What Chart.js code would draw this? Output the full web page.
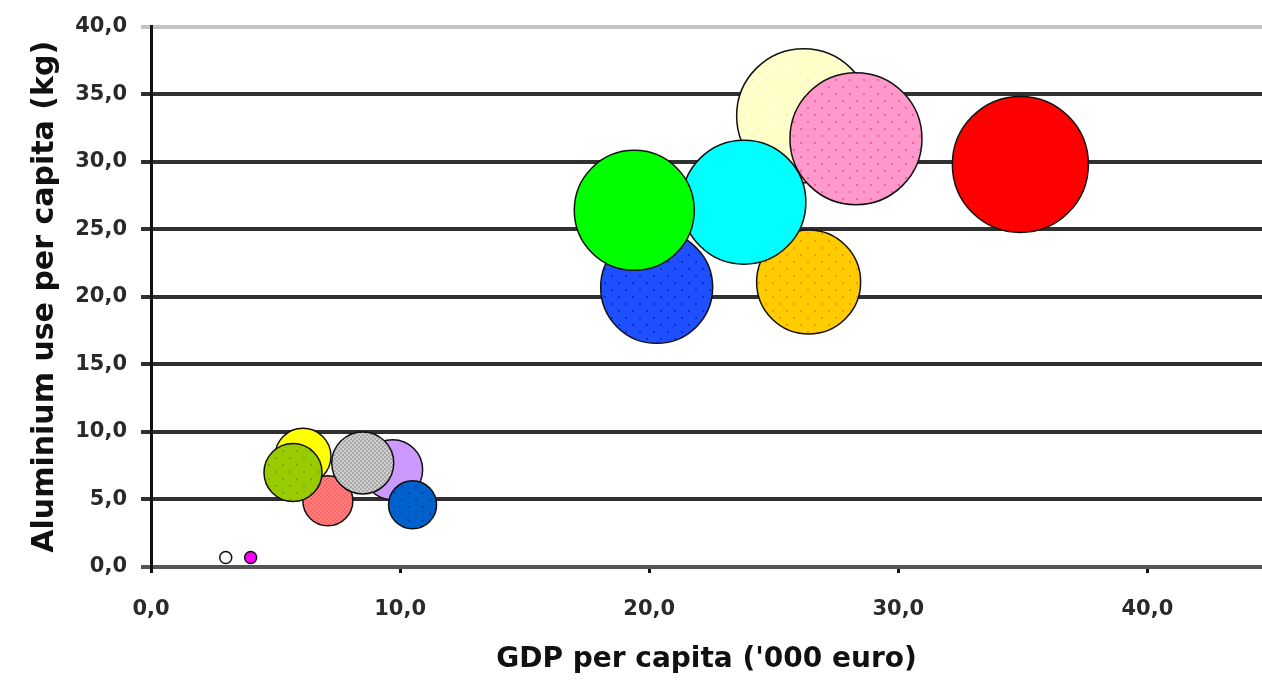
<!DOCTYPE html>
<html>
<head>
<meta charset="utf-8">
<script src="https://cdn.jsdelivr.net/npm/chart.js@4"></script>
<style>
  html, body { margin: 0; padding: 0; background: #ffffff; }
  #wrap { width: 1262px; height: 680px; position: relative; }
</style>
</head>
<body>
<div id="wrap"><canvas id="chart"></canvas></div>
<script>
// GDP per capita ('000 euro) and aluminium use per capita (kg) per country,
// bubble size = market volume (drawn as radius in px).
// Listed front to back: Chart.js paints the first dataset on top.
const gdp      = [4.0, 3.0, 10.5, 8.5, 9.7, 5.7, 7.1, 6.1, 34.9, 19.4, 20.3, 23.8, 26.4, 28.3, 26.2];
const aluUse   = [0.7, 0.7, 4.6, 7.7, 7.2, 7.0, 4.9, 8.2, 29.8, 26.4, 20.7, 27.0, 21.1, 31.7, 33.4];
const volume   = [6, 6, 24, 31, 30, 29, 25, 28, 68, 60, 56, 62, 52, 66, 67];

const xTicks = [0, 10, 20, 30, 40];
const yTicks = [0, 5, 10, 15, 20, 25, 30, 35, 40];

// fill styles: [base colour, pattern colour, pattern type]
const fills = [
  ['#ff00ff', null, null],
  ['#ffffff', null, null],
  ['#0060cc', '#0048a8', 'dots'],
  ['#cfcfcf', '#ababab', 'checker'],
  ['#cc99ff', null, null],
  ['#99cc00', '#7faa00', 'dots'],
  ['#ff8080', '#ff6666', 'checker'],
  ['#ffff00', null, null],
  ['#ff0000', null, null],
  ['#00ff00', null, null],
  ['#1f50ff', '#0b2fd0', 'dots'],
  ['#00ffff', null, null],
  ['#ffcc00', '#ff9900', 'dots'],
  ['#ff99cc', '#ff5fa0', 'dots'],
  ['#ffffcc', '#fff7a8', 'dots']
];

function makeFill(base, mark, type) {
  if (!type) return base;
  const c = document.createElement('canvas');
  const ctx = c.getContext('2d');
  if (type === 'checker') {
    c.width = 4; c.height = 4;
    ctx.fillStyle = base; ctx.fillRect(0, 0, 4, 4);
    ctx.fillStyle = mark;
    ctx.fillRect(0, 0, 2, 2); ctx.fillRect(2, 2, 2, 2);
  } else {
    c.width = 14; c.height = 14;
    ctx.fillStyle = base; ctx.fillRect(0, 0, 14, 14);
    ctx.fillStyle = mark;
    ctx.fillRect(2, 2, 2, 2); ctx.fillRect(9, 9, 2, 2);
  }
  return ctx.createPattern(c, 'repeat');
}

const datasets = gdp.map((x, i) => ({
  data: [{ x: x, y: aluUse[i], r: volume[i] }],
  backgroundColor: makeFill(fills[i][0], fills[i][1], fills[i][2]),
  borderColor: '#111111',
  borderWidth: 1.5,
  hoverBorderWidth: 1.5,
  clip: false
}));

const fmt = v => v.toFixed(1).replace('.', ',');
const tickFont = { family: 'DejaVu Sans', size: 21, weight: 'bold' };

new Chart(document.getElementById('chart'), {
  type: 'bubble',
  data: { datasets: datasets },
  options: {
    responsive: true,
    maintainAspectRatio: false,
    animation: false,
    events: [],
    layout: { autoPadding: false, padding: { top: 24, right: 0, bottom: 0, left: 0 } },
    plugins: { legend: { display: false }, tooltip: { enabled: false } },
    scales: {
      x: {
        type: 'linear',
        min: 0,
        max: 44.6,
        afterBuildTicks: s => { s.ticks = xTicks.map(v => ({ value: v })); },
        afterFit: s => { s.height = 113; },
        grid: {
          drawOnChartArea: false,
          drawTicks: true,
          tickLength: 6,
          color: '#111111',
          lineWidth: 3
        },
        border: { display: true, color: '#555555', width: 4 },
        ticks: {
          callback: v => fmt(v),
          font: tickFont,
          color: '#2a2a2a',
          padding: 24,
          maxRotation: 0
        },
        title: {
          display: true,
          text: "GDP per capita ('000 euro)",
          font: { family: 'DejaVu Sans', size: 28, weight: 'bold' },
          color: '#111111',
          padding: { top: 0, bottom: 3 }
        }
      },
      y: {
        type: 'linear',
        min: 0,
        max: 40,
        afterBuildTicks: s => { s.ticks = yTicks.map(v => ({ value: v })); },
        afterFit: s => { s.width = 151; },
        grid: {
          drawTicks: true,
          tickLength: 10,
          lineWidth: 4,
          color: ctx => (ctx.tick && ctx.tick.value === 40) ? '#c4c4c4'
                      : (ctx.tick && ctx.tick.value === 0) ? '#555555' : '#303030'
        },
        border: { display: true, color: '#111111', width: 3 },
        ticks: {
          callback: v => fmt(v),
          font: tickFont,
          color: '#2a2a2a',
          padding: 14
        },
        title: {
          display: true,
          text: 'Aluminium use per capita (kg)',
          font: { family: 'DejaVu Sans', size: 30, weight: 'bold' },
          color: '#111111',
          padding: { top: 27, bottom: 0 }
        }
      }
    }
  }
});
</script>
</body>
</html>
